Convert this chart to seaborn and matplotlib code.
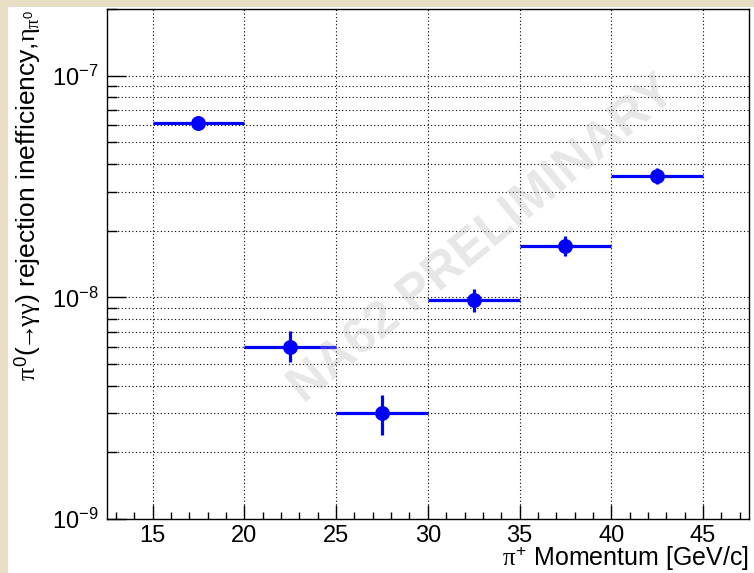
"""
pi0 rejection inefficiency vs pi+ momentum (NA62 preliminary style)
"""

import numpy as np
import pandas as pd
import matplotlib
matplotlib.use("Agg")
import matplotlib.pyplot as plt
import matplotlib.ticker as mticker
from matplotlib.patches import Rectangle
import seaborn as sns

# Data
momentum = [17.5, 22.5, 27.5, 32.5, 37.5, 42.5]
bin_half_width = [2.5, 2.5, 2.5, 2.5, 2.5, 2.5]
inefficiency = [6.1e-8, 6.0e-9, 3.0e-9, 9.75e-9, 1.71e-8, 3.52e-8]
err_low = [4.3e-9, 0.9e-9, 0.61e-9, 1.18e-9, 1.7e-9, 2.8e-9]
err_high = [4.6e-9, 1.05e-9, 0.63e-9, 1.13e-9, 1.85e-9, 3.1e-9]

x_ticks = [15, 20, 25, 30, 35, 40, 45]

df = pd.DataFrame({"momentum": momentum, "ineff": inefficiency})

# Style
sns.set_style("ticks")
plt.rcParams['font.family'] = ['Liberation Sans', 'DejaVu Sans']
plt.rcParams['mathtext.fontset'] = 'custom'
plt.rcParams['mathtext.rm'] = 'Liberation Sans'
plt.rcParams['mathtext.it'] = 'Liberation Serif'
plt.rcParams['mathtext.bf'] = 'Liberation Sans:bold'
plt.rcParams['text.color'] = 'black'
plt.rcParams['axes.labelcolor'] = 'black'
plt.rcParams['xtick.color'] = 'black'
plt.rcParams['ytick.color'] = 'black'

fig = plt.figure(figsize=(7.54, 5.73), dpi=100)
fig.patch.set_facecolor('white')
# thin beige border on the left and top
beige = '#E9DFC7'
fig.add_artist(Rectangle((0, 0), 8 / 754, 1, transform=fig.transFigure,
                         facecolor=beige, edgecolor='none', zorder=-10))
fig.add_artist(Rectangle((0, 1 - 7 / 573), 1, 7 / 573, transform=fig.transFigure,
                         facecolor=beige, edgecolor='none', zorder=-10))

ax = fig.add_axes([106.7 / 754, 54 / 573, 642.3 / 754, 510 / 573])
ax.set_facecolor('white')

blue = '#0000FF'
ax.errorbar(momentum, inefficiency, xerr=bin_half_width, yerr=[err_low, err_high],
            fmt='none', ecolor=blue, elinewidth=2.3, capsize=0, zorder=3)
sns.scatterplot(data=df, x="momentum", y="ineff", ax=ax, color=blue, s=115,
                edgecolor=blue, linewidth=0, zorder=4, legend=False)

ax.set_yscale('log')
ax.set_xlim(12.5, 47.5)
ax.set_ylim(1e-9, 2e-7)

ax.set_xticks(x_ticks)
ax.xaxis.set_minor_locator(mticker.MultipleLocator(1))
ax.yaxis.set_major_locator(mticker.LogLocator(base=10))
ax.yaxis.set_minor_locator(mticker.LogLocator(base=10, subs=np.arange(2, 10)))
ax.yaxis.set_minor_formatter(mticker.NullFormatter())

ax.tick_params(axis='both', which='both', direction='in', top=False, right=False,
               labelsize=17, width=1.0, color='black', labelcolor='black')
ax.tick_params(axis='x', which='major', length=10, pad=4)
ax.tick_params(axis='x', which='minor', length=5)
ax.tick_params(axis='y', which='major', length=14, pad=6)
ax.tick_params(axis='y', which='minor', length=7)

ax.grid(True, which='major', axis='x', color='black', linestyle=(0, (1, 2.2)), linewidth=0.8)
ax.grid(True, which='both', axis='y', color='black', linestyle=(0, (1, 2.2)), linewidth=0.8)
ax.set_axisbelow(True)

for s in ax.spines.values():
    s.set_color('black')
    s.set_linewidth(1.0)

ax.set_xlabel(r'$\pi^{+}$ Momentum [GeV/c]', fontsize=18, loc='right', labelpad=-2)
ax.set_ylabel(r'$\pi^{0}(\!\!\rightarrow\!\!\gamma\gamma)$ rejection inefficiency,$\eta_{\pi^{0}}$',
              fontsize=19, loc='top', labelpad=6)

# watermark
ax.text(0.585, 0.548, 'NA62 PRELIMINARY', transform=ax.transAxes, fontsize=36,
        fontweight='bold', color='#B0B0B0', alpha=0.3, rotation=39.5,
        ha='center', va='center', zorder=5)

plt.savefig('out.png', dpi=100, facecolor=fig.get_facecolor())
